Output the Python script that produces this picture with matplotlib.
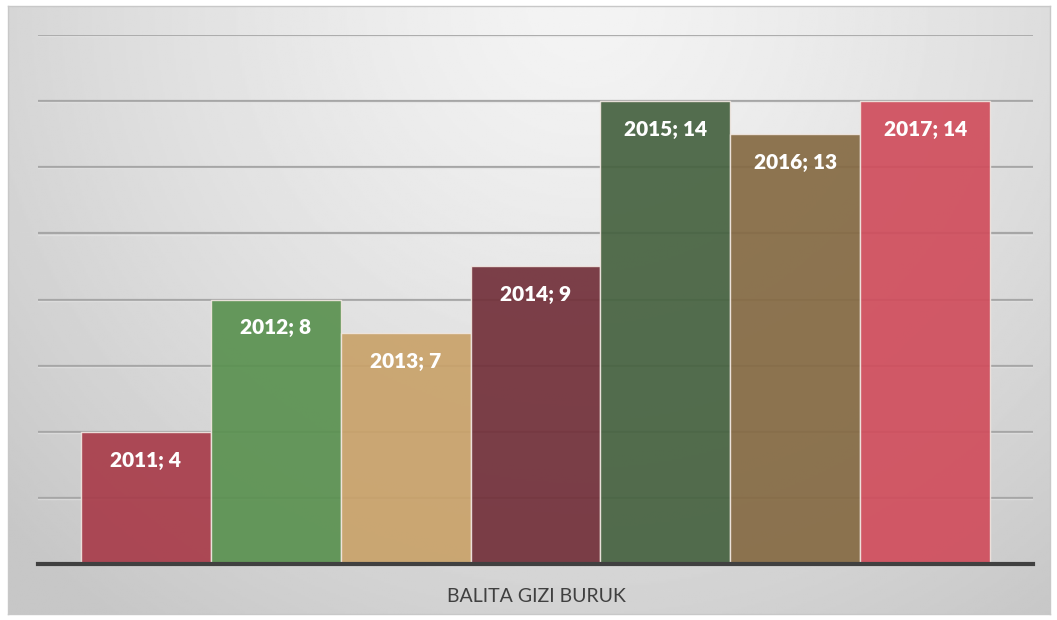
import numpy as np
import matplotlib
matplotlib.use("Agg")
import matplotlib.pyplot as plt

years = ["2011", "2012", "2013", "2014", "2015", "2016", "2017"]
values = [4, 8, 7, 9, 14, 13, 14]
colors = ["#a83c4a", "#5a9150", "#c9a26a", "#72303a", "#466240", "#856a43", "#d04d5c"]
xlabel = "BALITA GIZI BURUK"

W, H = 1057, 620
fig = plt.figure(figsize=(W / 100, H / 100), dpi=100)
fig.patch.set_facecolor("white")

# background panel with radial gradient
bx0, by0, bx1, by1 = 8, 6, 1050, 614
bg = fig.add_axes([bx0 / W, 1 - by1 / H, (bx1 - bx0) / W, (by1 - by0) / H])
ny, nx = 300, 500
yy, xx = np.mgrid[0:ny, 0:nx]
cx, cy = nx * 0.55, ny * 0.0
d = np.sqrt(((xx - cx) / (nx * 0.75)) ** 2 + ((yy - cy) / (ny * 1.25)) ** 2)
d = np.clip(d, 0, 1)
light, dark = 0.955, 0.78
img = light - (light - dark) * d ** 1.3
bg.imshow(img, cmap="gray", vmin=0, vmax=1, aspect="auto", extent=[0, 1, 0, 1], origin="upper")
bg.set_xlim(0, 1)
bg.set_ylim(0, 1)
for s in bg.spines.values():
    s.set_color("#c8c8c8")
    s.set_linewidth(1)
bg.set_xticks([])
bg.set_yticks([])

# main axes
ax_l, ax_r = 38, 1033
ax_t, ax_b = 35, 564
ax = fig.add_axes([ax_l / W, 1 - ax_b / H, (ax_r - ax_l) / W, (ax_b - ax_t) / H])
ax.patch.set_alpha(0)
ax.set_ylim(0, 16)
ax.set_xlim(-0.83, len(years) - 1 + 0.83)

for gy in range(2, 17, 2):
    ax.axhline(gy, color="#a6a6a6", lw=1.6, zorder=1)
    ax.axhline(gy - 0.035, color="#e6e6e6", lw=1.0, zorder=1, alpha=0.6)

x = np.arange(len(years))
bars = ax.bar(x, values, width=1.0, color=colors, alpha=0.92, zorder=2,
              edgecolor="#f0e6e0", linewidth=1.0)

for xi, v, yr in zip(x, values, years):
    ax.annotate(f"{yr}; {v}", (xi, v), xytext=(0, -20.5), textcoords="offset points",
                ha="center", va="center", color="white", fontsize=15,
                fontweight="heavy", family=["Lato", "DejaVu Sans"], zorder=4)

ax.axhline(0, color="#404040", lw=3, zorder=5, clip_on=False)

for s in ax.spines.values():
    s.set_visible(False)
ax.set_xticks([])
ax.set_yticks([])

fig.text(536 / W, 1 - 596 / H, xlabel, ha="center", va="center",
         fontsize=14, color="#404040", family=["Lato", "DejaVu Sans"])

fig.savefig("out.png", dpi=100)
